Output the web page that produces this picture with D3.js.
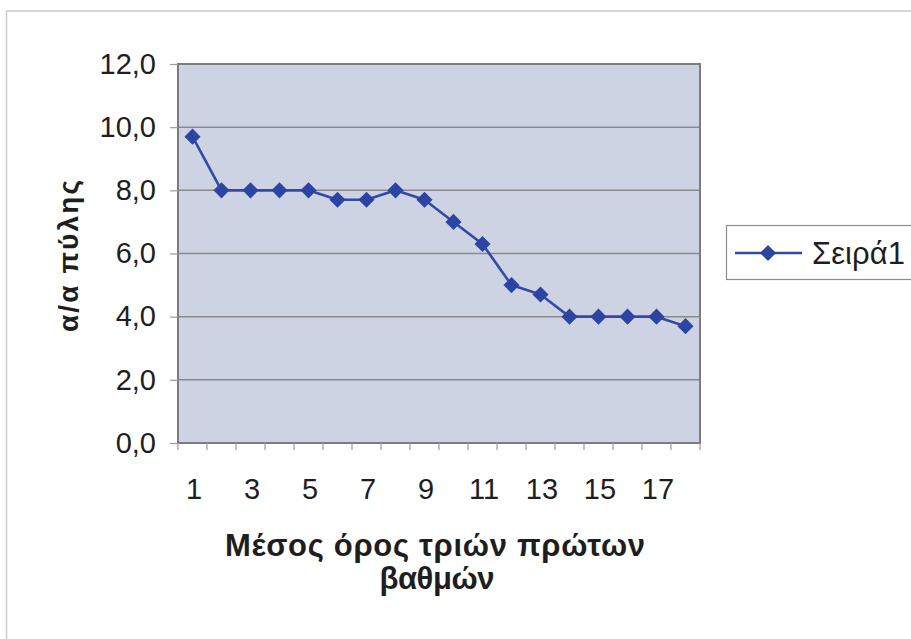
<!DOCTYPE html>
<html>
<head>
<meta charset="utf-8">
<script src="https://cdn.jsdelivr.net/npm/d3@7/dist/d3.min.js"></script>
<style>
  html, body { margin: 0; padding: 0; background: #ffffff; }
  svg { display: block; }
  text { font-family: "Liberation Sans", Arial, sans-serif; fill: #1e1e1e; }
</style>
</head>
<body>
<svg id="chart" width="911" height="639"></svg>
<script>
// ---- data ----
const categories = [1,2,3,4,5,6,7,8,9,10,11,12,13,14,15,16,17,18];
const values = [9.7, 8.0, 8.0, 8.0, 8.0, 7.7, 7.7, 8.0, 7.7, 7.0, 6.3, 5.0, 4.7, 4.0, 4.0, 4.0, 4.0, 3.7];
const yTicks = [0, 2, 4, 6, 8, 10, 12];
const xTickLabels = [1, 3, 5, 7, 9, 11, 13, 15, 17];
const seriesName = "Σειρά1";
const yTitle = "α/α πύλης";
const xTitleLines = ["Μέσος όρος τριών πρώτων", "βαθμών"];

// ---- layout ----
const svg = d3.select("#chart");
const plot = { left: 178, right: 700, top: 64, bottom: 443 };

const x = d3.scaleBand().domain(categories).range([plot.left, plot.right]).paddingInner(0).paddingOuter(0);
const y = d3.scaleLinear().domain([0, 12]).range([plot.bottom, plot.top]);

// outer chart frame (only left & top visible)
svg.append("path")
  .attr("d", d3.line()([[6.5, 639], [6.5, 11], [911, 11]]))
  .attr("fill", "none").attr("stroke", "#c9c9cd").attr("stroke-width", 1.5);

// plot background
svg.append("rect")
  .attr("x", plot.left).attr("y", plot.top)
  .attr("width", plot.right - plot.left).attr("height", plot.bottom - plot.top)
  .attr("fill", "#cdd3e3");

// gridlines
svg.append("g").selectAll("line").data(yTicks.filter(d => d > 0 && d < 12)).join("line")
  .attr("x1", plot.left).attr("x2", plot.right)
  .attr("y1", d => y(d)).attr("y2", d => y(d))
  .attr("stroke", "#8a8a8e").attr("stroke-width", 1.5);

// plot border
svg.append("rect")
  .attr("x", plot.left).attr("y", plot.top)
  .attr("width", plot.right - plot.left).attr("height", plot.bottom - plot.top)
  .attr("fill", "none").attr("stroke", "#7c7c80").attr("stroke-width", 2);

// y axis
const yAxis = d3.axisLeft(y).tickValues(yTicks).tickSize(8).tickPadding(14)
  .tickFormat(d => d3.format(".1f")(d).replace(".", ","));
const gy = svg.append("g").attr("transform", `translate(${plot.left},0)`).call(yAxis);
gy.select(".domain").remove();
gy.selectAll(".tick line").attr("stroke", "#9a9a9a").attr("stroke-width", 1.2);
gy.selectAll(".tick text").attr("font-size", 29).attr("fill", "#1e1e1e")
  .attr("font-family", "Liberation Sans, Arial, sans-serif");

// x axis ticks at category boundaries
const boundaries = categories.map(c => x(c)).concat([plot.right]);
svg.append("g").selectAll("line").data(boundaries).join("line")
  .attr("x1", d => d).attr("x2", d => d)
  .attr("y1", plot.bottom).attr("y2", plot.bottom + 7)
  .attr("stroke", "#9a9a9a").attr("stroke-width", 1.2);

svg.append("g").selectAll("text").data(xTickLabels).join("text")
  .attr("x", d => x(d) + x.bandwidth() / 2 + 1.5)
  .attr("y", 499)
  .attr("text-anchor", "middle")
  .attr("font-size", 29)
  .text(d => d);

// line
const lineColor = "#3349a6";
const line = d3.line()
  .x((d, i) => x(categories[i]) + x.bandwidth() / 2)
  .y(d => y(d));
svg.append("path").datum(values)
  .attr("d", line)
  .attr("fill", "none").attr("stroke", lineColor).attr("stroke-width", 2.6)
  .attr("stroke-linejoin", "round");

const diamond = d3.symbol().type(d3.symbolDiamond2).size(165);
svg.append("g").selectAll("path").data(values).join("path")
  .attr("transform", (d, i) => `translate(${x(categories[i]) + x.bandwidth() / 2},${y(d)})`)
  .attr("d", diamond)
  .attr("fill", "#2d44a2");

// axis titles
svg.append("text")
  .attr("transform", "translate(78,256) rotate(-90)")
  .attr("text-anchor", "middle")
  .attr("font-size", 28).attr("font-weight", "bold")
  .attr("textLength", 152).attr("lengthAdjust", "spacing")
  .text(yTitle);

svg.append("text")
  .attr("x", 435).attr("y", 556)
  .attr("text-anchor", "middle")
  .attr("font-size", 31).attr("font-weight", "bold")
  .attr("textLength", 420).attr("lengthAdjust", "spacing")
  .text(xTitleLines[0]);
svg.append("text")
  .attr("x", 437).attr("y", 589)
  .attr("text-anchor", "middle")
  .attr("font-size", 31).attr("font-weight", "bold")
  .attr("textLength", 115).attr("lengthAdjust", "spacing")
  .text(xTitleLines[1]);

// legend
const lg = svg.append("g");
lg.append("rect").attr("x", 726.5).attr("y", 225.5).attr("width", 200).attr("height", 54)
  .attr("fill", "#ffffff").attr("stroke", "#8c8c8c").attr("stroke-width", 1.2);
lg.append("line").attr("x1", 735).attr("x2", 802).attr("y1", 253).attr("y2", 253)
  .attr("stroke", lineColor).attr("stroke-width", 2.6);
lg.append("path").attr("transform", "translate(768,253)").attr("d", diamond).attr("fill", "#2d44a2");
lg.append("text").attr("x", 812).attr("y", 264)
  .attr("font-size", 31)
  .attr("textLength", 93).attr("lengthAdjust", "spacing")
  .text(seriesName);
</script>
</body>
</html>
